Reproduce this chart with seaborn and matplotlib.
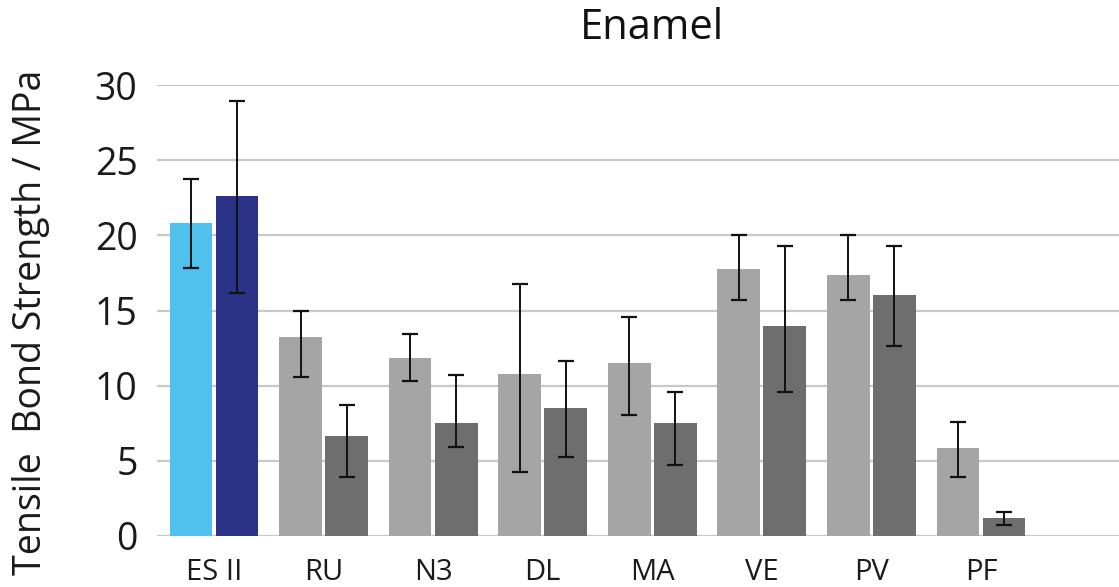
# %% packages
import numpy as np
import pandas as pd
import seaborn as sns
import matplotlib
matplotlib.use("Agg")
import matplotlib.pyplot as plt

# %% data
groups = ['ES II', 'RU', 'N3', 'DL', 'MA', 'VE', 'PV', 'PF']
series = ['A', 'B']

mean_a = [20.85, 13.25, 11.85, 10.75, 11.5, 17.75, 17.35, 5.85]
low_a = [17.8, 10.55, 10.3, 4.25, 8.05, 15.7, 15.7, 3.95]
high_a = [23.75, 15.0, 13.45, 16.75, 14.55, 20.05, 20.05, 7.55]

mean_b = [22.6, 6.65, 7.5, 8.5, 7.5, 13.95, 16.0, 1.2]
low_b = [16.15, 3.9, 5.9, 5.25, 4.7, 9.55, 12.65, 0.7]
high_b = [28.95, 8.7, 10.7, 11.65, 9.55, 19.3, 19.3, 1.6]

yticks = [0, 5, 10, 15, 20, 25, 30]

# colors
gray_light = '#A5A5A5'
gray_dark = '#6E6E6E'
blue_light = '#4FC1EC'
blue_dark = '#2B3388'

df = pd.DataFrame({
    'group': groups * 2,
    'series': ['A'] * len(groups) + ['B'] * len(groups),
    'value': mean_a + mean_b,
})

# %% plot
sns.set_theme(style='white')
plt.rcParams['font.family'] = ['Open Sans', 'DejaVu Sans']

fig = plt.figure(figsize=(11.19, 5.87), dpi=100)
ax = fig.add_axes([157 / 1119, 1 - 536 / 587, (1119 - 157) / 1119, (536 - 85) / 587])

sns.barplot(data=df, x='group', y='value', hue='series', order=groups,
            hue_order=series, palette=[gray_light, gray_dark],
            width=0.84, gap=0.07, errorbar=None, legend=False, ax=ax,
            zorder=2)

# first group is coloured blue
first_colors = [blue_light, blue_dark]
lows = [low_a, low_b]
highs = [high_a, high_b]
means = [mean_a, mean_b]
bar_conts = list(ax.containers)
for k, cont in enumerate(bar_conts):
    cont[0].set_facecolor(first_colors[k])
    for i, bar in enumerate(cont):
        bar.set_edgecolor('none')
        xc = bar.get_x() + bar.get_width() / 2
        m = means[k][i]
        ax.errorbar(xc, m, yerr=[[m - lows[k][i]], [highs[k][i] - m]],
                    fmt='none', ecolor='#111111', elinewidth=1.4,
                    capsize=6, capthick=1.6, zorder=3)

ax.set_ylim(0, 30)
ax.set_xlim(-0.52, 8.26)
ax.set_yticks(yticks)
ax.set_yticklabels([str(t) for t in yticks], fontsize=27, color='#1a1a1a')
ax.tick_params(axis='x', labelsize=21, colors='#1a1a1a', pad=16, length=0)
ax.tick_params(axis='y', pad=14, length=0)
ax.yaxis.grid(True, color='#C8C8C8', linewidth=1.6, zorder=0)
ax.set_axisbelow(True)
for s in ax.spines.values():
    s.set_visible(False)

ax.set_xlabel('')
ax.set_ylabel('Tensile  Bond Strength / MPa', fontsize=27, color='#1a1a1a')
ax.yaxis.set_label_coords(-0.111, 0.474)

fig.text(652 / 1119, 1 - 28 / 587, 'Enamel', fontsize=30, ha='center',
         va='center', color='#111111')

plt.savefig('out.png', dpi=100)
